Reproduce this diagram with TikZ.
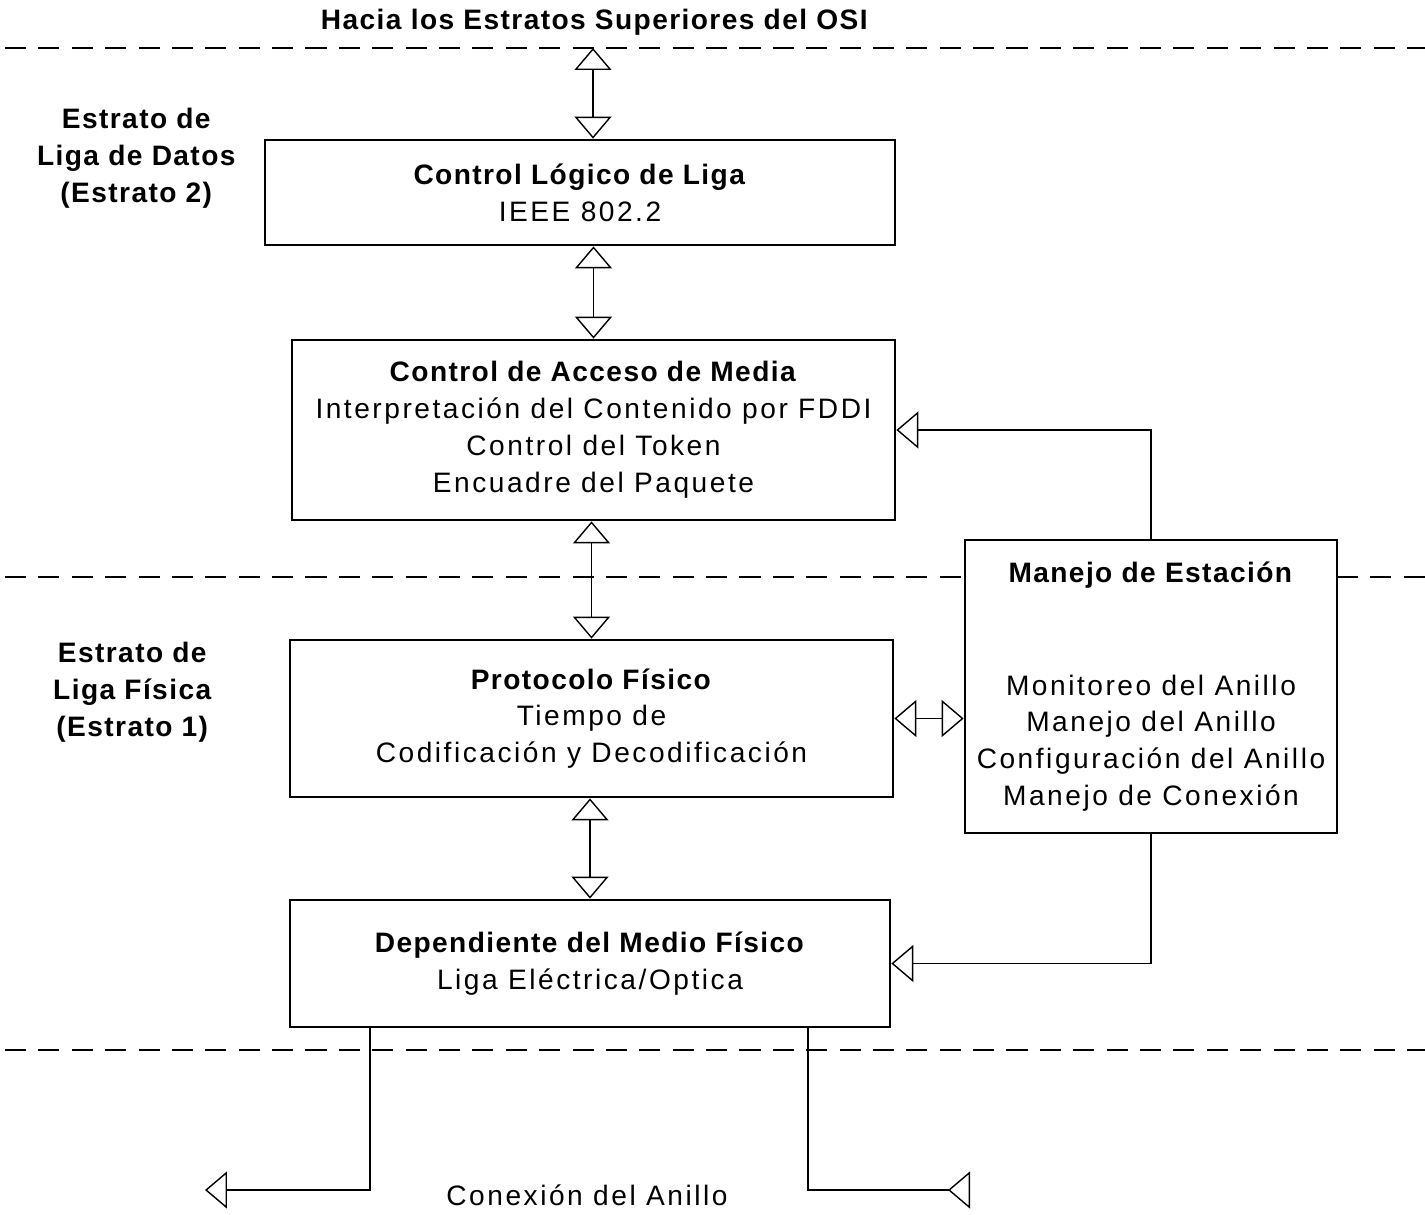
\documentclass[tikz,border=0pt]{standalone}
\usepackage{fontspec}
\setmainfont{Liberation Sans}[LetterSpace=9,BoldFeatures={LetterSpace=5}]
\usetikzlibrary{arrows.meta}
\begin{document}
\begin{tikzpicture}[
  x=0.02cm, y=-0.02cm,
  every node/.style={
    align=center,
    font=\fontsize{16}{21}\selectfont,
    inner sep=0pt
  },
  box/.style={draw, line width=1.6pt},
  layerline/.style={dashed, dash pattern=on 12pt off 7pt, line width=1.5pt},
  arrow/.style={{Triangle[open,length=0.44cm,width=0.74cm]}-{Triangle[open,length=0.44cm,width=0.74cm]}, line width=0.8pt},
  arrowone/.style={-{Triangle[open,length=0.44cm,width=0.74cm]}, line width=0.8pt}
]
\useasboundingbox (0,0) rectangle (1425,1214);

% layer boundaries
\draw[layerline] (5,48) -- (1425,48);
\draw[layerline] (5,577) -- (965,577);
\draw[layerline] (1337,577) -- (1425,577);
\draw[layerline] (5,1050) -- (1425,1050);

\node (ositext) at (595,22) {\textbf{Hacia los Estratos Superiores del OSI}};
\node (datos) at (137,158) {\textbf{Estrato de}\\\textbf{Liga de Datos}\\\textbf{(Estrato 2)}};
\node (fisica) at (133,692) {\textbf{Estrato de}\\\textbf{Liga Física}\\\textbf{(Estrato 1)}};

\node[box, minimum width=12.6cm, minimum height=2.1cm] (llc) at (580,192.5) {\textbf{Control Lógico de Liga}\\IEEE 802.2};
\node[box, minimum width=12.06cm, minimum height=3.6cm] (mac) at (593.5,430) {\textbf{Control de Acceso de Media}\\Interpretación del Contenido por FDDI\\Control del Token\\Encuadre del Paquete};
\node[box, minimum width=12.06cm, minimum height=3.14cm] (pf) at (591.5,718.5) {\textbf{Protocolo Físico}\\Tiempo de\\Codificación y Decodificación};
\node[box, minimum width=12.0cm, minimum height=2.54cm] (pmd) at (590,963.5) {\textbf{Dependiente del Medio Físico}\\Liga Eléctrica/Optica};
\node[box, minimum width=7.44cm, minimum height=5.86cm] (smt) at (1151,686.5) {\textbf{Manejo de Estación}\\[1.52cm]Monitoreo del Anillo\\Manejo del Anillo\\Configuración del Anillo\\Manejo de Conexión};
\node (ring) at (587,1195) {Conexión del Anillo};

\coordinate (osi) at (593,48);
\coordinate (ringl) at (205,1190);
\coordinate (ringr) at (970,1190);

\draw[arrow] (osi) -- (osi |- llc.north);
\draw[arrow] (llc.south -| mac.north) -- (mac.north);
\draw[arrow] (mac.south -| pf.north) -- (pf.north);
\draw[arrow] (pf.south -| pmd.north) -- (pmd.north);
\draw[arrowone] (smt.north) |- (mac.east);
\draw[arrow] (pf.east) -- (pf.east -| smt.west);
\draw[arrowone] (smt.south) |- (pmd.east);
\draw[arrowone] ([xshift=-4.4cm]pmd.south) |- (ringl);
\draw[-{Triangle[open,reversed,length=0.44cm,width=0.74cm]}, line width=0.8pt] ([xshift=4.36cm]pmd.south) |- (ringr);
\end{tikzpicture}
\end{document}
